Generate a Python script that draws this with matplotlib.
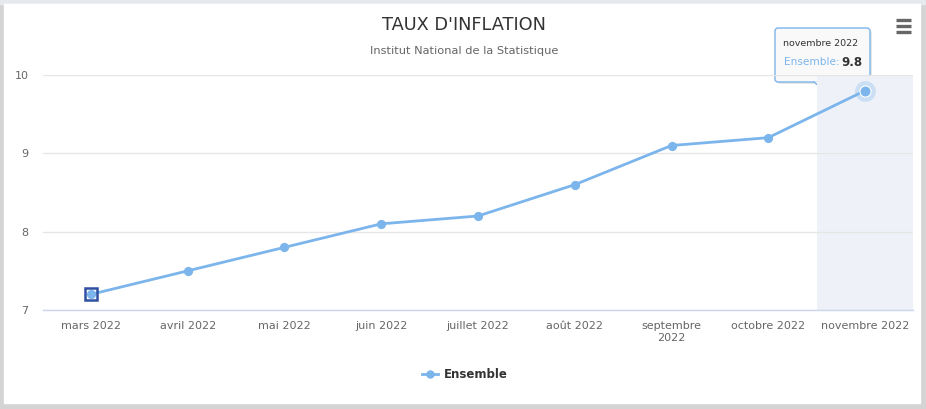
import matplotlib
matplotlib.use("Agg")
import matplotlib.pyplot as plt
from matplotlib.patches import Rectangle, FancyBboxPatch, Polygon
import numpy as np

categories = ["mars 2022", "avril 2022", "mai 2022", "juin 2022", "juillet 2022",
              "août 2022", "septembre\n2022", "octobre 2022", "novembre 2022"]
values = [7.2, 7.5, 7.8, 8.1, 8.2, 8.6, 9.1, 9.2, 9.8]
yticks = [7, 8, 9, 10]
series_name = "Ensemble"
title = "TAUX D'INFLATION"
subtitle = "Institut National de la Statistique"

W, H = 926, 409
plt.rcParams['font.family'] = ['DejaVu Sans']
fig = plt.figure(figsize=(W / 100, H / 100), dpi=100)
fig.patch.set_facecolor('#d4d4d4')

# white card
card = fig.add_axes([0, 0, 1, 1], zorder=-10)
card.set_xlim(0, W); card.set_ylim(H, 0); card.axis('off')
card.add_patch(Rectangle((0, 0), W, H, color='#d4d4d4'))
card.add_patch(Rectangle((0, 0), W, 4, color='#e6e9ee'))
card.add_patch(Rectangle((4, 4), 916, 399, color='white'))

L, R, T, B = 42.6, 913.4, 75, 310
ax = fig.add_axes([L / W, (H - B) / H, (R - L) / W, (B - T) / H])
ax.set_facecolor('none')
x = np.arange(len(categories))
ax.set_xlim(-0.5, len(categories) - 0.5)
ax.set_ylim(7, 10)

# hover band on last category
ax.axvspan(x[-1] - 0.5, x[-1] + 0.5, color='#eef2f8', zorder=0, lw=0)

for s in ['top', 'right', 'left']:
    ax.spines[s].set_visible(False)
ax.spines['bottom'].set_color('#ccd6eb')
ax.spines['bottom'].set_linewidth(1)
ax.set_yticks(yticks)
ax.set_yticklabels([str(v) for v in yticks])
ax.yaxis.grid(True, color='#e6e6e6', lw=1)
ax.set_axisbelow(True)
ax.tick_params(axis='y', length=0, pad=10, labelsize=8, labelcolor='#666666')
ax.tick_params(axis='x', length=0, pad=8, labelsize=8, labelcolor='#666666')
ax.set_xticks(x)
ax.set_xticklabels(categories, linespacing=1.25)
for lbl in ax.get_yticklabels():
    lbl.set_horizontalalignment('right')

color = '#7cb5ec'
ax.plot(x, values, color=color, lw=2.0, marker='o', ms=5.6, mec=color, mfc=color,
        zorder=3, clip_on=False, label=series_name)
# halo + enlarged last point
ax.plot(x[-1], values[-1], 'o', ms=15, color=color, alpha=0.3, mew=0, zorder=4, clip_on=False)
ax.plot(x[-1], values[-1], 'o', ms=8, color=color, mec='white', mew=0.8, zorder=5, clip_on=False)
# focus square on first point
ax.plot(x[0], values[0], marker='s', ms=8.5, mfc='none', mec='#2f4fa0', mew=1.8,
        zorder=5, clip_on=False)

# legend
leg = fig.legend(handles=[ax.lines[0]], labels=[series_name], loc='center',
                 bbox_to_anchor=(465 / W, (H - 375) / H), frameon=False,
                 prop={'weight': 'bold', 'size': 8.5}, handlelength=1.4,
                 handletextpad=0.5, markerscale=0.9)
for t in leg.get_texts():
    t.set_color('#333333')

# title and subtitle
fig.text(464 / W, (H - 25) / H, title, ha='center', va='center', fontsize=12.8, color='#333333')
fig.text(464 / W, (H - 51) / H, subtitle, ha='center', va='center', fontsize=8.2, color='#666666')

# hamburger menu
for yy in (20, 26, 32):
    card.plot([896, 911], [yy, yy], color='#666666', lw=2.4, solid_capstyle='butt')

# tooltip
card.add_patch(FancyBboxPatch((777, 30), 95, 54, boxstyle='round,pad=0,rounding_size=3',
                              fc='#d0d0d0', ec='none', alpha=0.5, zorder=5))
card.add_patch(FancyBboxPatch((775, 28), 95, 54, boxstyle='round,pad=0,rounding_size=3',
                              fc='#f9f9f9', ec=color, lw=1, zorder=6))
card.add_patch(Polygon([[814, 81.5], [821, 88], [828, 81.5]], closed=True,
                       fc='#f9f9f9', ec='none', zorder=7))
card.plot([814, 821, 828], [82, 88, 82], color=color, lw=1, zorder=7)
card.text(783, 44, "novembre 2022", fontsize=6.8, color='#333333', va='center', ha='left', zorder=8)
card.text(840, 62, "Ensemble:", fontsize=7.6, color=color, va='center', ha='right', zorder=8)
card.text(841, 62, "9.8", fontsize=8.5, color='#333333', weight='bold', va='center', ha='left', zorder=8)

fig.savefig('out.png', dpi=100, facecolor=fig.get_facecolor())
